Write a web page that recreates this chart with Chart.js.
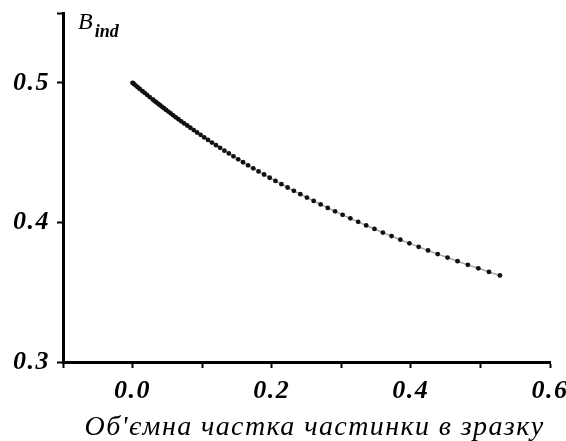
<!DOCTYPE html>
<html>
<head>
<meta charset="utf-8">
<script src="https://cdn.jsdelivr.net/npm/chart.js@4.4.1/dist/chart.umd.min.js"></script>
<style>
  html, body { margin: 0; padding: 0; background: #fff; }
  #wrap { width: 566px; height: 441px; }
</style>
</head>
<body>
<div id="wrap"><canvas id="bindChart" width="566" height="441"></canvas></div>
<script>
// volume fraction of the particle in the sample (x) and B_ind (y)
const volumeFraction = [
    0.0000, 0.0005, 0.0018, 0.0042, 0.0073,
    0.0104, 0.0143, 0.0173, 0.0208, 0.0246,
    0.0290, 0.0313, 0.0338, 0.0364, 0.0391,
    0.0420, 0.0450, 0.0481, 0.0514, 0.0548,
    0.0584, 0.0621, 0.0660, 0.0700, 0.0742,
    0.0786, 0.0831, 0.0879, 0.0927, 0.0978,
    0.1030, 0.1084, 0.1141, 0.1199, 0.1258,
    0.1320, 0.1384, 0.1450, 0.1518, 0.1588,
    0.1660, 0.1735, 0.1811, 0.1890, 0.1971,
    0.2054, 0.2140, 0.2228, 0.2318, 0.2411,
    0.2506, 0.2603, 0.2703, 0.2806, 0.2911,
    0.3019, 0.3130, 0.3243, 0.3358, 0.3477,
    0.3598, 0.3722, 0.3849, 0.3979, 0.4112,
    0.4247, 0.4386, 0.4527, 0.4671, 0.4819,
    0.4970, 0.5123, 0.5280
];
const bInd = [
    0.5000, 0.4998, 0.4992, 0.4982, 0.4969,
    0.4956, 0.4940, 0.4928, 0.4914, 0.4898,
    0.4881, 0.4871, 0.4861, 0.4851, 0.4841,
    0.4830, 0.4818, 0.4806, 0.4794, 0.4781,
    0.4767, 0.4753, 0.4739, 0.4724, 0.4709,
    0.4694, 0.4678, 0.4661, 0.4644, 0.4627,
    0.4609, 0.4591, 0.4572, 0.4553, 0.4534,
    0.4514, 0.4494, 0.4473, 0.4452, 0.4431,
    0.4409, 0.4387, 0.4365, 0.4343, 0.4320,
    0.4297, 0.4274, 0.4250, 0.4226, 0.4202,
    0.4178, 0.4154, 0.4129, 0.4104, 0.4079,
    0.4054, 0.4029, 0.4004, 0.3978, 0.3953,
    0.3927, 0.3902, 0.3876, 0.3850, 0.3825,
    0.3799, 0.3773, 0.3748, 0.3722, 0.3696,
    0.3671, 0.3645, 0.3620
];
const xTickLabels = ['0.0', '0.2', '0.4', '0.6'];
const yTickLabels = ['0.3', '0.4', '0.5'];
const yTickValues = [0.3, 0.4, 0.5, 0.55];
const xAxisTitle = "Об'ємна частка частинки в зразку";
const yAxisSymbol = 'B';
const yAxisSubscript = 'ind';

const tickFont = { family: 'Liberation Serif', size: 26, style: 'italic', weight: 'bold' };

const points = volumeFraction.map((x, i) => ({ x: x, y: bInd[i] }));

// slightly wide-set tick numbers like the scanned figure, plus the axis captions
const captionsPlugin = {
    id: 'captions',
    beforeDraw(chart) {
        chart.ctx.letterSpacing = '1.5px';
    },
    afterDraw(chart) {
        const ctx = chart.ctx;
        const area = chart.chartArea;
        ctx.save();
        ctx.fillStyle = '#000';
        ctx.textBaseline = 'alphabetic';

        // B_ind next to the top of the y axis
        ctx.letterSpacing = '0px';
        ctx.textAlign = 'left';
        const x0 = area.left + 15;
        ctx.font = 'italic 24px "Liberation Serif"';
        ctx.fillText(yAxisSymbol, x0, 29);
        const w = ctx.measureText(yAxisSymbol).width;
        ctx.font = 'italic bold 18px "Liberation Serif"';
        ctx.fillText(yAxisSubscript, x0 + w + 2, 37);

        // x axis caption
        ctx.letterSpacing = '1.4px';
        ctx.textAlign = 'center';
        ctx.font = 'italic 28px "Liberation Serif"';
        ctx.fillText(xAxisTitle, (area.left + area.right) / 2 + 8, 435);
        ctx.restore();
        ctx.letterSpacing = '0px';
    }
};

const ctx = document.getElementById('bindChart').getContext('2d');
new Chart(ctx, {
    type: 'scatter',
    data: {
        datasets: [{
            data: points,
            showLine: true,
            borderColor: 'rgba(0, 0, 0, 0.35)',
            borderWidth: 1.5,
            pointRadius: 2.4,
            pointBorderWidth: 0,
            pointBackgroundColor: '#111',
            pointHoverRadius: 2.4
        }]
    },
    options: {
        responsive: false,
        animation: false,
        events: [],
        layout: { padding: { top: 13, right: 16, left: 0, bottom: 0 } },
        plugins: {
            legend: { display: false },
            tooltip: { enabled: false }
        },
        scales: {
            x: {
                type: 'linear',
                min: -0.1,
                max: 0.6,
                grid: {
                    drawOnChartArea: false,
                    drawTicks: true,
                    tickLength: 6,
                    tickWidth: 2,
                    color: '#000'
                },
                border: { display: true, width: 3, color: '#000' },
                ticks: {
                    stepSize: 0.1,
                    autoSkip: false,
                    maxRotation: 0,
                    padding: 8,
                    color: '#000',
                    font: tickFont,
                    callback: (value) => {
                        const label = (Math.round(value * 10) / 10).toFixed(1);
                        return xTickLabels.includes(label) ? label : '';
                    }
                },
                afterFit: (scale) => {
                    scale.height = 79;
                    scale.paddingLeft = 0;
                    scale.paddingRight = 0;
                }
            },
            y: {
                type: 'linear',
                min: 0.3,
                max: 0.55,
                grid: {
                    drawOnChartArea: false,
                    drawTicks: true,
                    tickLength: 6,
                    tickWidth: 2,
                    color: '#000'
                },
                border: { display: true, width: 3, color: '#000' },
                ticks: {
                    padding: 7,
                    color: '#000',
                    font: tickFont,
                    callback: (value) => {
                        const label = value.toFixed(1);
                        return (yTickLabels.includes(label) && value < 0.54) ? label : '';
                    }
                },
                afterBuildTicks: (scale) => {
                    scale.ticks = yTickValues.map(v => ({ value: v }));
                },
                afterFit: (scale) => {
                    scale.width = 63;
                    scale.paddingTop = 0;
                    scale.paddingBottom = 0;
                }
            }
        }
    },
    plugins: [captionsPlugin]
});
</script>
</body>
</html>
